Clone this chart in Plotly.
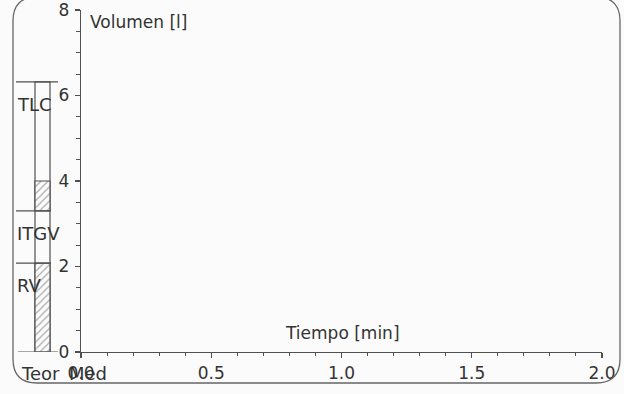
import plotly.graph_objects as go

# ---- data ----
ref_labels = ["TLC", "ITGV", "RV"]          # reference (Teor) volumes
ref_values = [6.32, 3.30, 2.08]              # litres
med_base = [0.0, 3.30]                       # measured (hatched) segments
med_top = [2.08, 4.00]
column_top = 6.32                            # outline of measured column
col_labels = ["Teor", "Med"]
x_ticks = [0.0, 0.5, 1.0, 1.5, 2.0]
x_ticktext = ["0.0", "0.5", "1.0", "1.5", "2.0"]
y_ticks = [0, 2, 4, 6, 8]

# ---- layout constants (pixels) ----
W, H = 624, 394
AX_L, AX_R, AX_T, AX_B = 81, 602, 10, 352
LINE = "#505050"
TXT = "#333333"
BG = "#fbfbfb"
FONT = "DejaVu Sans"

def px(x):
    return x / W

def py(y):
    return 1 - y / H

fig = go.Figure()

# empty trace so the main time/volume subplot exists
fig.add_trace(go.Scatter(x=[], y=[], xaxis="x", yaxis="y",
                         showlegend=False, hoverinfo="skip"))

# outline of the measured column
fig.add_trace(go.Bar(
    x=[42.5], y=[column_top], base=[0], width=[15],
    marker=dict(color="rgba(0,0,0,0)", line=dict(color=LINE, width=1.2)),
    xaxis="x2", yaxis="y", showlegend=False, hoverinfo="skip"))

# hatched measured segments
fig.add_trace(go.Bar(
    x=[42.5] * len(med_base),
    y=[t - b for b, t in zip(med_base, med_top)],
    base=med_base, width=[15] * len(med_base),
    marker=dict(color=BG, line=dict(color=LINE, width=1.2),
                pattern=dict(shape="/", fgcolor="#5a5a5a", bgcolor=BG,
                             size=5, solidity=0.25)),
    xaxis="x2", yaxis="y", showlegend=False, hoverinfo="skip"))

# reference lines
for lab, v in zip(ref_labels, ref_values):
    x_end = 58 if lab == "TLC" else 51
    fig.add_trace(go.Scatter(
        x=[16, x_end], y=[v, v], mode="lines",
        line=dict(color=LINE, width=1.2),
        xaxis="x2", yaxis="y", showlegend=False, hoverinfo="skip"))
    fig.add_annotation(
        text=lab, xref="x2", yref="y", x=15, y=v - 0.52,
        xanchor="left", yanchor="middle", showarrow=False,
        font=dict(family=FONT, size=18, color=TXT))

# baseline under the columns
fig.add_trace(go.Scatter(
    x=[18, 58], y=[0, 0], mode="lines",
    line=dict(color=LINE, width=1.2),
    xaxis="x2", yaxis="y", showlegend=False, hoverinfo="skip"))

# column labels
for lab, cx in zip(col_labels, [40, 88]):
    fig.add_annotation(
        text=lab, xref="paper", yref="paper", x=px(cx), y=py(373),
        xanchor="center", yanchor="middle", showarrow=False,
        font=dict(family=FONT, size=18, color=TXT))

# axis titles
fig.add_annotation(
    text="Volumen [l]", xref="paper", yref="paper", x=px(88), y=py(22),
    xanchor="left", yanchor="middle", showarrow=False,
    font=dict(family=FONT, size=17, color=TXT))
fig.add_annotation(
    text="Tiempo [min]", xref="paper", yref="paper", x=px(342), y=py(333),
    xanchor="center", yanchor="middle", showarrow=False,
    font=dict(family=FONT, size=17, color=TXT))

# rounded frame
top, bot, lft, rgt, r = -3, 383, 13, 620, 24
path = (f"M {px(lft + r)},{py(top)} L {px(rgt - r)},{py(top)} "
        f"Q {px(rgt)},{py(top)} {px(rgt)},{py(top + r)} "
        f"L {px(rgt)},{py(bot - r)} Q {px(rgt)},{py(bot)} {px(rgt - r)},{py(bot)} "
        f"L {px(lft + r)},{py(bot)} Q {px(lft)},{py(bot)} {px(lft)},{py(bot - r)} "
        f"L {px(lft)},{py(top + r)} Q {px(lft)},{py(top)} {px(lft + r)},{py(top)} Z")
fig.add_shape(type="path", path=path, xref="paper", yref="paper",
              line=dict(color="#666666", width=1.3), fillcolor="rgba(0,0,0,0)")

axis_font = dict(family=FONT, size=17, color=TXT)
fig.update_layout(
    width=W, height=H, autosize=False,
    margin=dict(l=0, r=0, t=0, b=0, autoexpand=False),
    paper_bgcolor=BG, plot_bgcolor=BG,
    barmode="overlay", showlegend=False,
    xaxis=dict(domain=[px(AX_L), px(AX_R)], range=[0, 2], anchor="y",
               automargin=False, ticklabeloverflow="allow",
               showline=True, linecolor=LINE, linewidth=1.2,
               ticks="outside", ticklen=5, tickcolor=LINE, tickwidth=1.2,
               tickvals=x_ticks, ticktext=x_ticktext, tickfont=axis_font,
               ticklabelstandoff=0,
               minor=dict(dtick=0.1, ticks="outside", ticklen=3,
                          tickcolor=LINE, tickwidth=1, showgrid=False),
               showgrid=False, zeroline=False, fixedrange=True),
    yaxis=dict(domain=[py(AX_B), py(AX_T)], range=[0, 8], anchor="x",
               automargin=False, ticklabeloverflow="allow",
               showline=True, linecolor=LINE, linewidth=1.2,
               ticks="outside", ticklen=5, tickcolor=LINE, tickwidth=1.2,
               tickvals=y_ticks, tickfont=axis_font,
               ticklabelstandoff=2,
               minor=dict(dtick=0.5, ticks="outside", ticklen=4,
                          tickcolor=LINE, tickwidth=1, showgrid=False),
               showgrid=False, zeroline=False, fixedrange=True),
    xaxis2=dict(domain=[0, px(80)], range=[0, 80], anchor="y",
                automargin=False, visible=False, fixedrange=True),
)

fig.write_html("out.html",
               config={"displayModeBar": False, "staticPlot": True},
               post_script="document.body.style.margin='0';"
                           "document.body.style.overflow='hidden';")
